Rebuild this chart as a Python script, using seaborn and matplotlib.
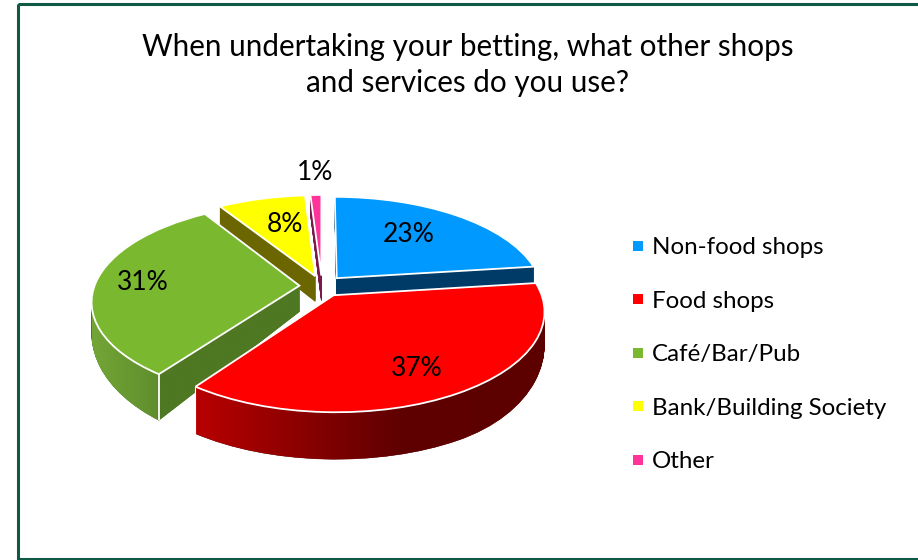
import numpy as np
import matplotlib
matplotlib.use('Agg')
import matplotlib.pyplot as plt
import seaborn as sns
from matplotlib.colors import LinearSegmentedColormap
from matplotlib.lines import Line2D
from matplotlib.patches import PathPatch, Rectangle
from matplotlib.path import Path
from matplotlib.transforms import Transform

categories = ['Non-food shops', 'Food shops', 'Café/Bar/Pub', 'Bank/Building Society', 'Other']
shares = [23, 37, 31, 8, 1]
title = 'When undertaking your betting, what other shops\nand services do you use?'

top_colors = ['#0099FF', '#FF0000', '#7AB92F', '#FFFF00', '#FF3399']
wall_colors = ['#003A66', '#600000', '#4F7823', '#6B6600', '#7A1A4A']
label_pos = [(409, 235), (417, 369), (143, 283), (285, 225), (315, 173)]

# pie centre and scale in picture pixels
CX, CY = 322, 286
RX, KY, PERSP = 205, 96, 0.153


def wall_height(y):
    return np.clip(26 - np.where(y < 0, 25, 6) * y, 0, 47)


def tilt(xy, z):
    x, y = xy[:, 0], xy[:, 1]
    s = 1 / (1 + PERSP * y)
    return np.column_stack([CX + RX * x * s, CY - KY * y * s + z * wall_height(y)])


class Tilt(Transform):
    input_dims = output_dims = 2
    is_separable = False
    has_inverse = False

    def __init__(self, z=0.0):
        super().__init__()
        self.z = z

    def transform_non_affine(self, values):
        return tilt(np.asarray(values, dtype=float), self.z)


sns.set_theme(style='white')
plt.rcParams['font.family'] = ['Lato', 'DejaVu Sans']

fig = plt.figure(figsize=(9.18, 5.6), dpi=100)
ax = fig.add_axes([0, 0, 1, 1])
wedges, _ = ax.pie(shares, startangle=90, counterclock=False, radius=1,
                   explode=[0.11] * len(shares), colors=top_colors)
ax.set_aspect('auto')
ax.set_xlim(0, 918)
ax.set_ylim(560, 0)
ax.axis('off')


def wall_gradient(i):
    # colour stops along x in pixels, for the outer wall of each slice
    if i == 1:
        stops = [(188, '#BB0000'), (400, '#600000'), (545, '#5C0000')]
    elif i == 2:
        stops = [(92, '#73A536'), (157.5, '#5F8F2D'), (158.5, wall_colors[2]), (305, wall_colors[2])]
    else:
        return None
    lo, hi = stops[0][0], stops[-1][0]
    cmap = LinearSegmentedColormap.from_list(
        'wall', [((x - lo) / (hi - lo), c) for x, c in stops], N=512)
    return cmap, lo, hi


depths = np.linspace(1, 0, 60)
draw_order = [4, 3, 0, 2, 1]
for rank, i in enumerate(draw_order):
    w = wedges[i]
    w.set_visible(False)
    base = 10 + rank * 5
    path = w.get_path()

    outline = []
    for z in depths:
        p = Tilt(z).transform_path(path)
        outline.append(p)
        ax.add_patch(PathPatch(Path(path.vertices, path.codes), transform=Tilt(z) + ax.transData,
                               fc=wall_colors[i], ec=wall_colors[i], lw=0.3, zorder=base))

    grad = wall_gradient(i)
    if grad is not None:
        cmap, lo, hi = grad
        img = ax.imshow(np.linspace(0, 1, 512)[None, :], cmap=cmap, aspect='auto',
                        extent=(lo, hi, 480, 150), zorder=base + 1)
        img.set_clip_path(Path.make_compound_path(*outline), ax.transData)

    ax.add_patch(PathPatch(Path(path.vertices, path.codes), transform=Tilt(0) + ax.transData,
                           fc=top_colors[i], ec='white', lw=1.3, zorder=base + 3))

    # white line down the front corner of the slice
    if i in (1, 2):
        ang = np.radians(90 - 360 * sum(shares[:2]) / sum(shares))
        corner = np.array([[w.center[0] + w.r * np.cos(ang), w.center[1] + w.r * np.sin(ang)]])
        a, b = tilt(corner, 0)[0], tilt(corner, 1)[0]
        ax.plot([a[0], b[0]], [a[1], b[1]], color='white', lw=1.3 if i == 2 else 0.8,
                zorder=base + 2, solid_capstyle='butt')
ax.set_xlim(0, 918)
ax.set_ylim(560, 0)

for share, (x, y) in zip(shares, label_pos):
    ax.text(x, y, f'{share}%', ha='center', va='center', fontsize=19, color='black', zorder=60)

ax.text(468, 65, title, ha='center', va='center', fontsize=21.3, color='black',
        linespacing=1.38, zorder=60)

handles = [Line2D([], [], linestyle='none', marker='s', markersize=7, markeredgewidth=0,
                  color=c, label=n) for c, n in zip(top_colors, categories)]
ax.legend(handles=handles, loc='upper left', bbox_to_anchor=(635, 237), bbox_transform=ax.transData,
          frameon=False, fontsize=17.4, labelspacing=1.35, handlelength=0.25, handletextpad=0.46,
          borderpad=0, borderaxespad=0, labelcolor='black')

ax.add_patch(Rectangle((17.5, 3.5), 910, 555, fc='none', ec='#0F5A45', lw=2.2, zorder=70))

fig.savefig('out.png', dpi=100)
plt.close(fig)
